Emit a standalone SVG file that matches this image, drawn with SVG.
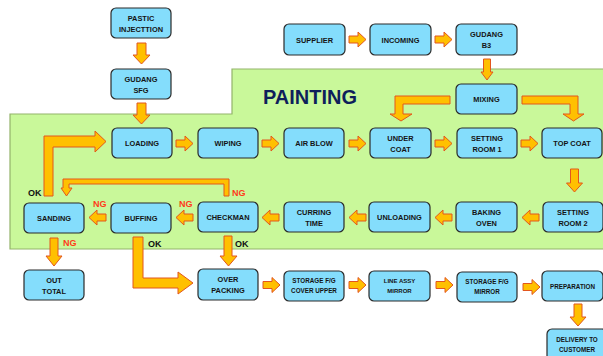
<svg xmlns="http://www.w3.org/2000/svg" width="603" height="356" viewBox="0 0 603 356">
<style>
.bg{fill:#ffffff}
.zone{fill:#C9F89A;stroke:#93B36B;stroke-width:1.2}
.box{fill:#84DDFC;stroke:#2A2A2A;stroke-width:1.2}
.t{font-family:"Liberation Sans",Arial,sans-serif;font-weight:bold;font-size:7.4px;fill:#141414;text-anchor:middle}
.s{font-size:6.3px}
.arr{fill:#FFC000;stroke:#E2561E;stroke-width:1}
.ok{font-family:"Liberation Sans",Arial,sans-serif;font-weight:bold;font-size:9px;fill:#111111}
.ng{font-family:"Liberation Sans",Arial,sans-serif;font-weight:bold;font-size:9px;fill:#FF3B1A}
.title{font-family:"Liberation Sans",Arial,sans-serif;font-weight:bold;font-size:20px;fill:#0E1F5B}
</style>
<defs>
<path id="ar" class="arr" d="M0,-3.5 H9 V-7.5 L17,0 L9,7.5 V3.5 H0 Z"/>
</defs>
<rect class="bg" x="0" y="0" width="603" height="356"/>
<polygon class="zone" points="232,69 604,69 604,249 10,249 10,114 232,114"/>
<text class="title" x="263" y="104" textLength="94" lengthAdjust="spacingAndGlyphs">PAINTING</text>

<g id="connectors">
<path class="arr" d="M137,43 H146 V55 H150 L141.5,64 L133,55 H137 Z"/>
<path class="arr" d="M137,103 H146 V115 H150 L141.5,124 L133,115 H137 Z"/>
<use href="#ar" transform="translate(349,39.5)"/>
<use href="#ar" transform="translate(435,39.5)"/>
<path class="arr" d="M483.5,59 H490.5 V72 H493 L487,80 L481,72 H483.5 Z"/>
<path class="arr" d="M450,96 H395 V114 H390 L401,121 L412,114 H403 V104 H450 Z"/>
<path class="arr" d="M522,96 H578 V114 H584 L573.5,121 L563,114 H570 V104 H522 Z"/>
<use href="#ar" transform="translate(176,143.5)"/>
<use href="#ar" transform="translate(262,143.5)"/>
<use href="#ar" transform="translate(349,143.5)"/>
<use href="#ar" transform="translate(435,143.5)"/>
<use href="#ar" transform="translate(521,143.5)"/>
<path class="arr" d="M570.5,169 H578.5 V183 H582.5 L574.5,192 L566.5,183 H570.5 Z"/>
<use href="#ar" transform="translate(539,217.5) rotate(180)"/>
<use href="#ar" transform="translate(452,217.5) rotate(180)"/>
<use href="#ar" transform="translate(366,217.5) rotate(180)"/>
<use href="#ar" transform="translate(279,217.5) rotate(180)"/>
<use href="#ar" transform="translate(193,217.5) rotate(180)"/>
<use href="#ar" transform="translate(106,217.5) rotate(180)"/>
<path class="arr" d="M44,196 V136 H95 V131 L106,141.5 L95,152 V147 H53 V196 Z"/>
<path class="arr" d="M229,196 V179 H63 V188 H61 L66.5,196 L72,188 H69 V184 H224 V196 Z"/>
<path class="arr" d="M50,238 H58 V256 H62 L54,266 L46,256 H50 Z"/>
<path class="arr" d="M133,237 V288 H178 V294 L193,283 L178,272 V278 H143 V237 Z"/>
<path class="arr" d="M224,236 H232 V256 H237 L228.5,266 L220,256 H224 Z"/>
<use href="#ar" transform="translate(263,285)"/>
<use href="#ar" transform="translate(349,285)"/>
<use href="#ar" transform="translate(436,285)"/>
<use href="#ar" transform="translate(523,287)"/>
<path class="arr" d="M574,304 H582 V317 H586 L578,326 L570,317 H574 Z"/>
<text class="ok" x="28" y="196">OK</text>
<text class="ng" x="232" y="196">NG</text>
<text class="ng" x="93" y="207">NG</text>
<text class="ng" x="179" y="207">NG</text>
<text class="ng" x="63" y="246">NG</text>
<text class="ok" x="148" y="247">OK</text>
<text class="ok" x="235" y="247">OK</text>
</g>

<g id="pastic"><rect class="box" x="111" y="8" width="60" height="30" rx="5"/><text class="t" x="141" y="20.5">PASTIC</text><text class="t" x="141" y="31.5">INJECTTION</text></g>
<g id="sfg"><rect class="box" x="111" y="69" width="60" height="30" rx="5"/><text class="t" x="141" y="81.5">GUDANG</text><text class="t" x="141" y="92.5">SFG</text></g>
<g id="supplier"><rect class="box" x="284" y="24" width="61" height="31" rx="5"/><text class="t" x="314.5" y="42.5">SUPPLIER</text></g>
<g id="incoming"><rect class="box" x="370" y="24" width="61" height="31" rx="5"/><text class="t" x="400.5" y="42.5">INCOMING</text></g>
<g id="b3"><rect class="box" x="456" y="24" width="61" height="31" rx="5"/><text class="t" x="486.5" y="37">GUDANG</text><text class="t" x="486.5" y="48">B3</text></g>
<g id="mixing"><rect class="box" x="456" y="84" width="61" height="30" rx="5"/><text class="t" x="486.5" y="101.7">MIXING</text></g>
<g id="loading"><rect class="box" x="112" y="128" width="60" height="30" rx="5"/><text class="t" x="142" y="145.7">LOADING</text></g>
<g id="wiping"><rect class="box" x="198" y="128" width="60" height="30" rx="5"/><text class="t" x="228" y="145.7">WIPING</text></g>
<g id="airblow"><rect class="box" x="284" y="128" width="60" height="30" rx="5"/><text class="t" x="314" y="145.7">AIR BLOW</text></g>
<g id="undercoat"><rect class="box" x="370" y="128" width="61" height="30" rx="5"/><text class="t" x="400.5" y="140.5">UNDER</text><text class="t" x="400.5" y="151.5">COAT</text></g>
<g id="sr1"><rect class="box" x="457" y="128" width="60" height="30" rx="5"/><text class="t" x="487" y="140.5">SETTING</text><text class="t" x="487" y="151.5">ROOM 1</text></g>
<g id="topcoat"><rect class="box" x="542" y="128" width="60" height="30" rx="5"/><text class="t" x="572" y="145.7">TOP COAT</text></g>
<g id="sanding"><rect class="box" x="24" y="203" width="60" height="30" rx="5"/><text class="t" x="54" y="220.7">SANDING</text></g>
<g id="buffing"><rect class="box" x="111" y="203" width="60" height="30" rx="5"/><text class="t" x="141" y="220.7">BUFFING</text></g>
<g id="checkman"><rect class="box" x="198" y="202" width="60" height="30" rx="5"/><text class="t" x="228" y="219.7">CHECKMAN</text></g>
<g id="curring"><rect class="box" x="284" y="202" width="60" height="30" rx="5"/><text class="t" x="314" y="214.5">CURRING</text><text class="t" x="314" y="225.5">TIME</text></g>
<g id="unloading"><rect class="box" x="369" y="202" width="61" height="30" rx="5"/><text class="t" x="399.5" y="219.7">UNLOADING</text></g>
<g id="baking"><rect class="box" x="456" y="202" width="61" height="30" rx="5"/><text class="t" x="486.5" y="214.5">BAKING</text><text class="t" x="486.5" y="225.5">OVEN</text></g>
<g id="sr2"><rect class="box" x="543" y="202" width="60" height="30" rx="5"/><text class="t" x="573" y="214.5">SETTING</text><text class="t" x="573" y="225.5">ROOM 2</text></g>
<g id="outtotal"><rect class="box" x="24" y="270" width="60" height="30" rx="5"/><text class="t" x="54" y="282.5">OUT</text><text class="t" x="54" y="293.5">TOTAL</text></g>
<g id="overpacking"><rect class="box" x="198" y="269" width="60" height="31" rx="5"/><text class="t" x="228" y="282">OVER</text><text class="t" x="228" y="293">PACKING</text></g>
<g id="storagecover"><rect class="box" x="284" y="271" width="60" height="30" rx="5"/><text class="t s" x="314" y="283">STORAGE F/G</text><text class="t s" x="314" y="292.5">COVER UPPER</text></g>
<g id="lineassy"><rect class="box" x="369" y="271" width="61" height="30" rx="5"/><text class="t s" x="399.5" y="283" style="font-size:6px">LINE ASSY</text><text class="t s" x="399.5" y="292.5" style="font-size:6px">MIRROR</text></g>
<g id="storagemirror"><rect class="box" x="457" y="272" width="60" height="30" rx="5"/><text class="t s" x="487" y="284">STORAGE F/G</text><text class="t s" x="487" y="293.5">MIRROR</text></g>
<g id="preparation"><rect class="box" x="542" y="271" width="61" height="30" rx="5"/><text class="t s" x="572.5" y="288.5">PREPARATION</text></g>
<g id="delivery"><rect class="box" x="547" y="329" width="60" height="32" rx="5"/><text class="t s" x="577" y="342">DELIVERY TO</text><text class="t s" x="577" y="351.5">CUSTOMER</text></g>
</svg>
